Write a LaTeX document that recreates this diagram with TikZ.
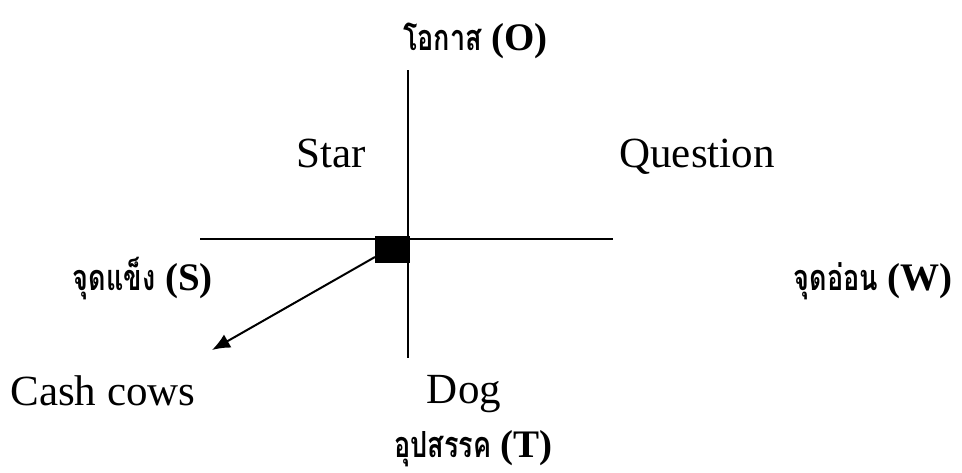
\documentclass[tikz,border=0pt]{standalone}
\usepackage{fontspec}
\usetikzlibrary{arrows.meta}
\setmainfont{Liberation Serif}
\newfontfamily\thaifont[Script=Thai,FakeStretch=0.75]{Loma}
\newcommand{\thaitxt}[1]{{\thaifont\fontsize{36}{40}\selectfont\bfseries #1}}
\begin{document}
\begin{tikzpicture}[x=1pt,y=-1pt,
  big/.style={font=\fontsize{43}{50}\selectfont, inner sep=0pt, anchor=base},
  lab/.style={font=\fontsize{39}{44}\selectfont\bfseries, inner sep=0pt, anchor=base east},
  axis/.style={line width=2pt}]
\useasboundingbox (0,0) rectangle (962,472);
% axes
\coordinate (vt) at (408,70);
\coordinate (vb) at (408,358);
\coordinate (hl) at (200,239);
\coordinate (hr) at (613,239);
\draw[axis] (vt) -- (vb);
\draw[axis] (hl) -- (hr);
\node[fill=black, minimum width=35pt, minimum height=27pt, inner sep=0pt] (sq) at (392.5,249.5) {};
\coordinate (tip) at (212,350);
\draw[line width=2pt, -{Latex[length=18pt,width=15pt]}] (375,257) -- (tip);
% quadrant labels
\node[big] (star) at (331,167) {Star};
\node[big] (q) at (697,167) {Question};
\node[big] (cash) at (103,405) {Cash cows};
\node[big] (dog) at (464,403) {Dog};
% axis labels
\node[lab] (o) at (548,50) {\thaitxt{โอกาส} (O)};
\node[lab] (s) at (213,290) {\thaitxt{จุดแข็ง} (S)};
\node[lab] (w) at (953,290) {\thaitxt{จุดอ่อน} (W)};
\node[lab] (t) at (553,457) {\thaitxt{อุปสรรค} (T)};
\end{tikzpicture}
\end{document}
